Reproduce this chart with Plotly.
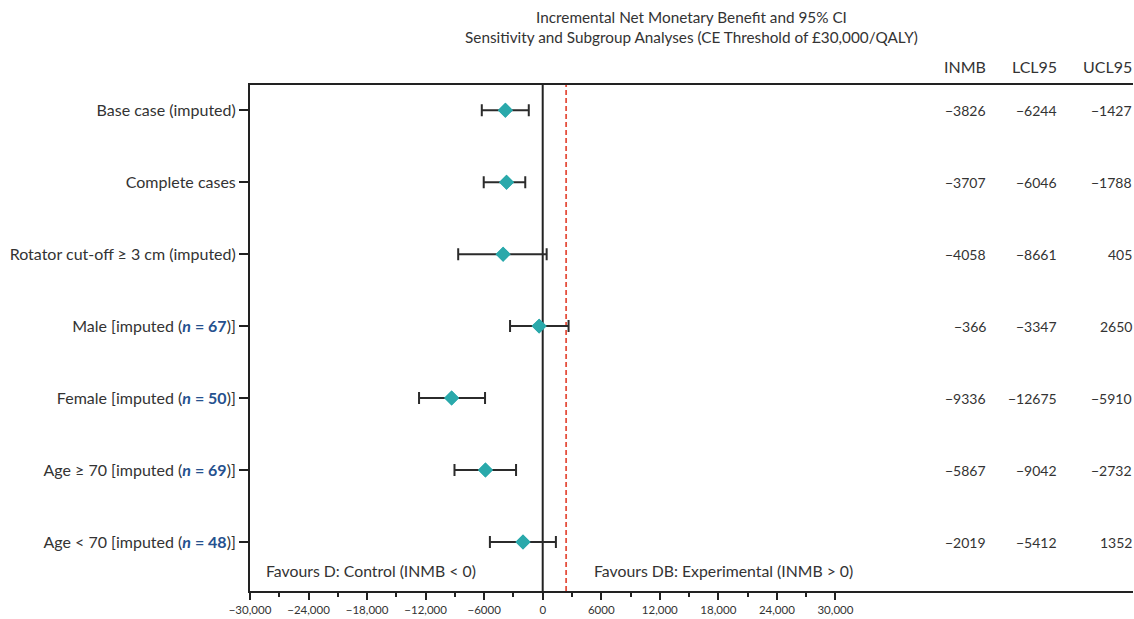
import plotly.graph_objects as go

labels = [
    "Base case (imputed)",
    "Complete cases",
    "Rotator cut-off \u2265 3 cm (imputed)",
    "Male [imputed (<span style='color:#25518f'><b><i>n</i> = 67</b></span>)]",
    "Female [imputed (<span style='color:#25518f'><b><i>n</i> = 50</b></span>)]",
    "Age \u2265 70 [imputed (<span style='color:#25518f'><b><i>n</i> = 69</b></span>)]",
    "Age &lt; 70 [imputed (<span style='color:#25518f'><b><i>n</i> = 48</b></span>)]",
]
inmb = [-3826, -3707, -4058, -366, -9336, -5867, -2019]
lcl95 = [-6244, -6046, -8661, -3347, -12675, -9042, -5412]
ucl95 = [-1427, -1788, 405, 2650, -5910, -2732, 1352]
ref_line = 2400
xticks = list(range(-30000, 30001, 6000))
xtick_text = ["\u221230,000", "\u221224,000", "\u221218,000", "\u221212,000", "\u22126000", "0",
              "6000", "12,000", "18,000", "24,000", "30,000"]
minor_ticks = list(range(-27000, 30000, 6000))

n = len(labels)
ypos = [n - i for i in range(n)]
txt = "#333333"
font = "Lato, 'Open Sans', sans-serif"

def fmt(v):
    return ("\u2212" + str(abs(v))) if v < 0 else str(v)

fig = go.Figure()
fig.add_trace(go.Scatter(
    x=inmb, y=ypos, mode="markers",
    marker=dict(symbol="diamond", size=11.5, color="#2aa9ab"),
    error_x=dict(type="data", symmetric=False,
                 array=[u - m for u, m in zip(ucl95, inmb)],
                 arrayminus=[m - l for m, l in zip(inmb, lcl95)],
                 color="#2b2b2b", thickness=2, width=6),
    showlegend=False, hoverinfo="skip"))
fig.add_trace(go.Scatter(
    x=inmb, y=ypos, mode="markers",
    marker=dict(symbol="diamond", size=11.5, color="#2aa9ab"),
    showlegend=False, hoverinfo="skip"))

fig.add_shape(type="line", x0=0, x1=0, y0=0, y1=1, xref="x", yref="paper",
              line=dict(color="#222222", width=2), layer="below")
fig.add_shape(type="line", x0=ref_line, x1=ref_line, y0=0, y1=1, xref="x", yref="paper",
              line=dict(color="#e5503e", width=1.8, dash="5px,3px"), layer="below")

cols = [("INMB", inmb, 0.8360), ("LCL95", lcl95, 0.9165), ("UCL95", ucl95, 1.0015)]
for head, vals, px in cols:
    fig.add_annotation(x=px, y=1.036, xref="paper", yref="paper", text=head,
                       showarrow=False, xanchor="right", yanchor="middle",
                       font=dict(size=16, color=txt, family=font))
    for v, yy in zip(vals, ypos):
        fig.add_annotation(x=px - 0.0005, y=yy, xref="paper", yref="y", text=fmt(v),
                           showarrow=False, xanchor="right", yanchor="middle",
                           font=dict(size=14, color=txt, family=font))

fig.add_annotation(x=-28600, y=0.6, xref="x", yref="y",
                   text="Favours D: Control (INMB &lt; 0)", showarrow=False,
                   xanchor="left", yanchor="middle", font=dict(size=15.8, color=txt, family=font))
fig.add_annotation(x=5100, y=0.6, xref="x", yref="y",
                   text="Favours DB: Experimental (INMB &gt; 0)", showarrow=False,
                   xanchor="left", yanchor="middle", font=dict(size=15.8, color=txt, family=font))

fig.update_layout(
    width=1134, height=619,
    margin=dict(l=250, r=1, t=85, b=28),
    paper_bgcolor="white", plot_bgcolor="white",
    font=dict(family=font, color=txt, size=14),
    title=dict(text="Incremental Net Monetary Benefit and 95% CI<br>Sensitivity and Subgroup Analyses (CE Threshold of \u00a330,000/QALY)",
               x=0.5, xref="paper", xanchor="center", y=1 - 23 / 619, yref="container", yanchor="middle",
               font=dict(size=15.3, color=txt, family=font)),
    xaxis=dict(range=[-30000, 60500], tickvals=xticks, ticktext=xtick_text,
               showgrid=False, zeroline=False, showline=True, linecolor="#222222", linewidth=2,
               mirror=True, ticks="outside", ticklen=7, tickwidth=2, tickcolor="#222222",
               tickfont=dict(size=11.5, color=txt, family=font),
               minor=dict(tickvals=minor_ticks, ticks="outside", ticklen=4, tickwidth=1.5, tickcolor="#222222")),
    yaxis=dict(range=[0.32, 7.35], tickvals=ypos, ticktext=labels,
               showgrid=False, zeroline=False, showline=True, linecolor="#222222", linewidth=2,
               ticks="outside", ticklen=9, tickwidth=2, tickcolor="#222222",
               tickfont=dict(size=16, color=txt, family=font)),
)

fig.write_html("out.html", config={"displayModeBar": False},
               post_script="document.body.style.margin='0px';")
